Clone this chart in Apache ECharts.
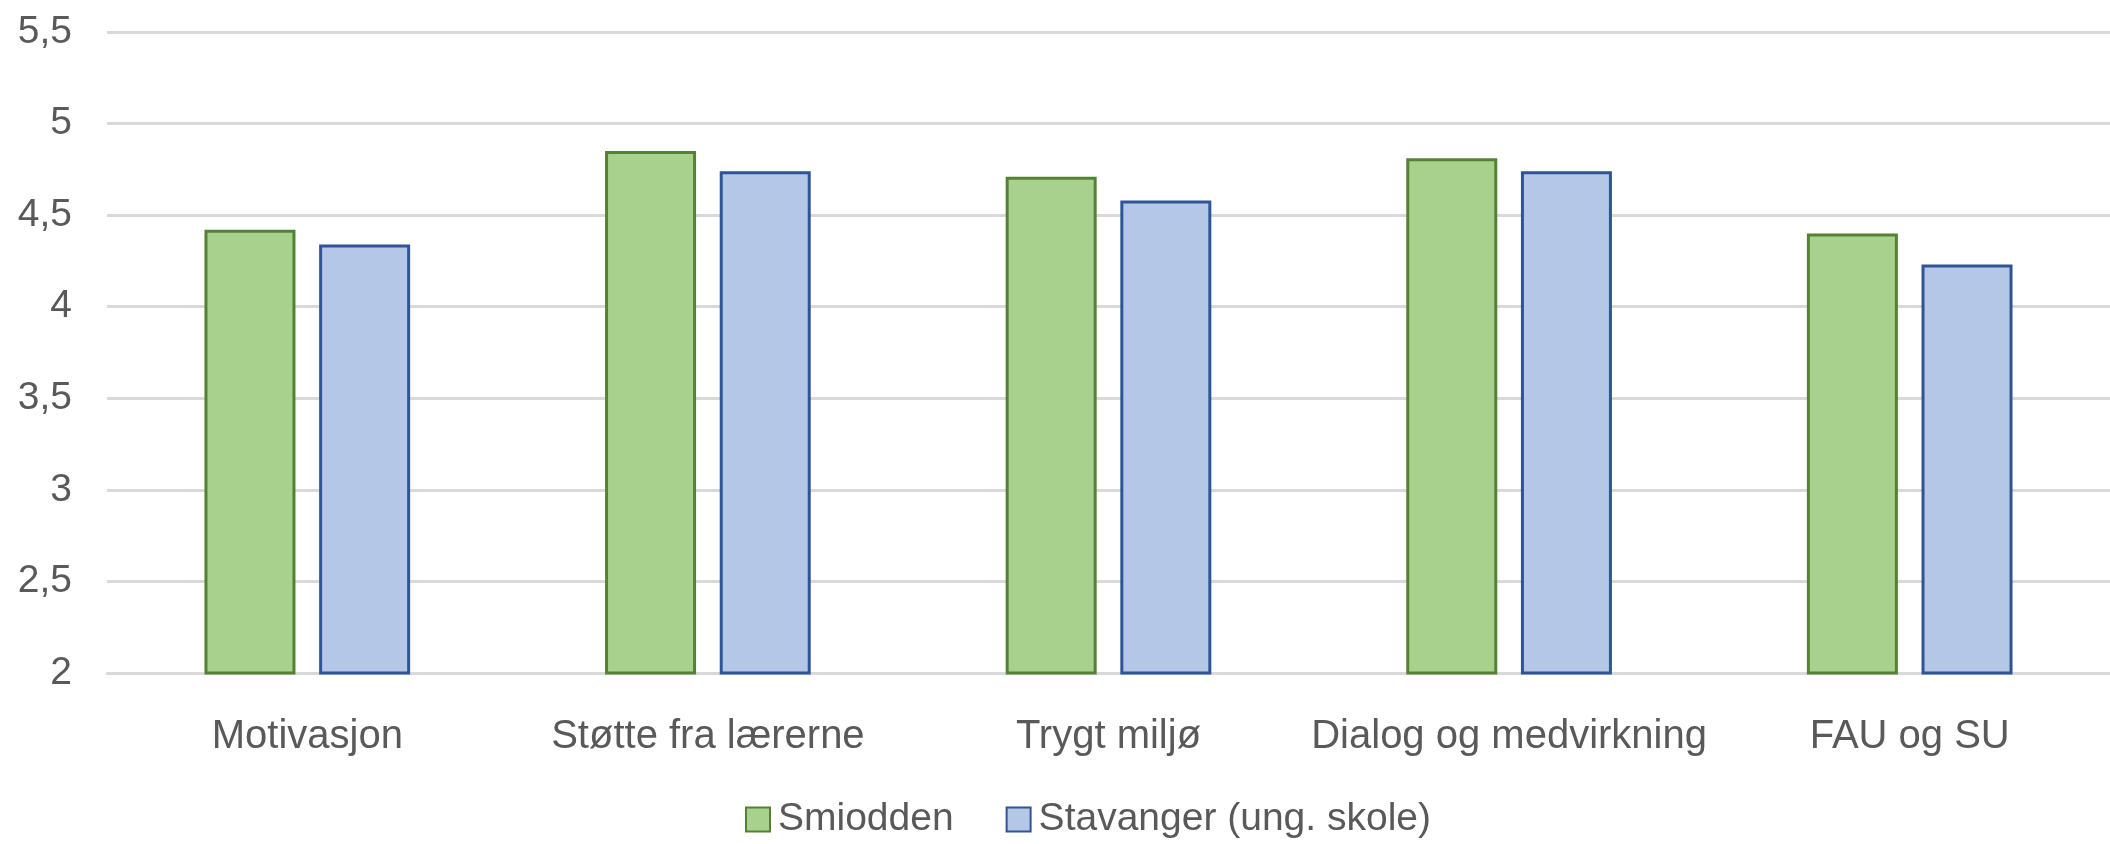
<!DOCTYPE html>
<html>
<head>
<meta charset="utf-8">
<script src="https://cdn.jsdelivr.net/npm/echarts@6/dist/echarts.min.js"></script>
<style>
html,body{margin:0;padding:0;background:#fff;}
#chart{width:2110px;height:844px;}
</style>
</head>
<body>
<div id="chart"></div>
<script>
var categories = ['Motivasjon', 'Støtte fra lærerne', 'Trygt miljø', 'Dialog og medvirkning', 'FAU og SU'];
var seriesNames = ['Smiodden', 'Stavanger (ung. skole)'];
var smiodden = [4.42, 4.85, 4.71, 4.81, 4.40];
var stavanger = [4.34, 4.74, 4.58, 4.74, 4.23];
var yMin = 2, yMax = 5.5, yStep = 0.5;

var font = 'Liberation Sans';
var textColor = '#595959';
var chart = echarts.init(document.getElementById('chart'), null, {renderer: 'canvas'});
chart.setOption({
  backgroundColor: '#ffffff',
  animation: false,
  grid: {left: 107, right: 0, top: 32, bottom: 171, containLabel: false},
  legend: {
    bottom: 0,
    left: 740,
    icon: 'rect',
    itemWidth: 24,
    itemHeight: 24,
    itemGap: 52,
    textStyle: {fontFamily: font, fontSize: 39, color: textColor, padding: [0,0,0,3]},
    data: seriesNames
  },
  xAxis: {
    type: 'category',
    data: categories,
    axisLine: {show: true, lineStyle: {color: '#D9D9D9', width: 3}},
    axisTick: {show: false},
    axisLabel: {fontFamily: font, fontSize: 40, color: textColor, margin: 44, interval: 0}
  },
  yAxis: {
    type: 'value',
    min: yMin, max: yMax, interval: yStep,
    axisLine: {show: false},
    axisTick: {show: false},
    splitLine: {lineStyle: {color: '#D9D9D9', width: 3}},
    axisLabel: {
      fontFamily: font, fontSize: 39, color: textColor, margin: 35,
      formatter: function (v) { return String(v).replace('.', ','); }
    }
  },
  series: [
    {
      name: seriesNames[0], type: 'bar', data: smiodden,
      barWidth: 91, barGap: '26%',
      itemStyle: {color: '#A9D18E', borderColor: '#548235', borderWidth: 3}
    },
    {
      name: seriesNames[1], type: 'bar', data: stavanger,
      barWidth: 91,
      itemStyle: {color: '#B4C7E7', borderColor: '#2F5597', borderWidth: 3}
    }
  ]
});
</script>
</body>
</html>
